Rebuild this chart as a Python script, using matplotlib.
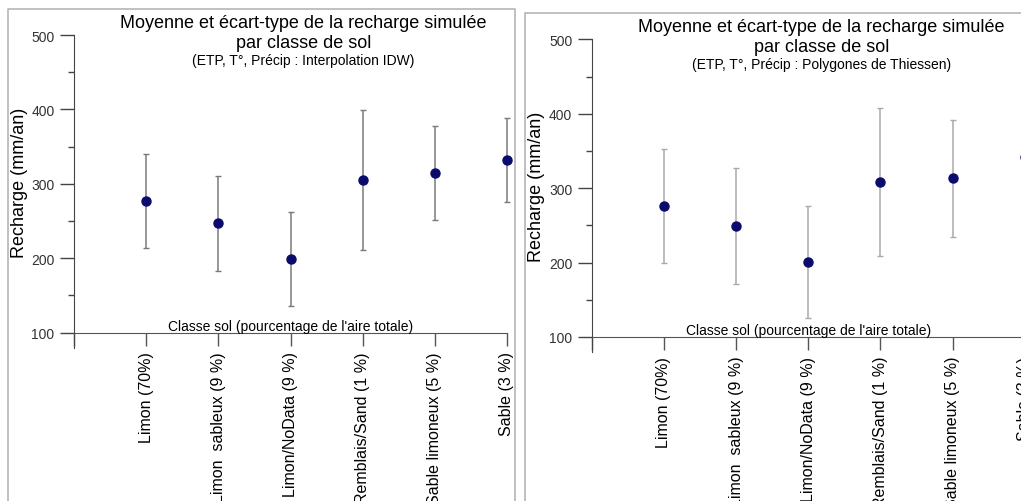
import matplotlib
matplotlib.use('Agg')
import matplotlib.pyplot as plt
from matplotlib.lines import Line2D
from matplotlib.ticker import MultipleLocator

plt.rcParams['font.family'] = ['Liberation Sans', 'DejaVu Sans']

# Soil classes (share of total area)
categories = ['Limon (70%)', 'Limon  sableux (9 %)', 'Limon/NoData (9 %)',
              'Remblais/Sand (1 %)', 'Sable limoneux (5 %)', 'Sable (3 %)']

# Mean and standard deviation of simulated recharge (mm/an)
idw_mean = [277, 247, 199, 305, 315, 332]
idw_std = [63, 64, 63, 94, 63, 56]

thiessen_mean = [276, 249, 201, 308, 313, 342]
thiessen_std = [76, 78, 75, 99, 79, 68]

subtitles = ['(ETP, T°, Précip : Interpolation IDW)',
             '(ETP, T°, Précip : Polygones de Thiessen)']

W, H = 1021, 502
fig = plt.figure(figsize=(W / 100, H / 100), dpi=100)


def fx(px):
    return px / W


def fy(py):
    return 1 - py / H


# frames around each panel
fig.add_artist(Line2D([fx(8), fx(8), fx(515), fx(515)], [0, fy(10), fy(10), 0],
                      transform=fig.transFigure, color='#b5b5b5', lw=1.2))
fig.add_artist(Line2D([fx(525), fx(525), 1.01], [0, fy(14), fy(14)],
                      transform=fig.transFigure, color='#b5b5b5', lw=1.2))

panels = [
    (idw_mean, idw_std, subtitles[0], 74, 36, '#7a7a7a'),
    (thiessen_mean, thiessen_std, subtitles[1], 591.7, 40.3, '#aaaaaa'),
]

for mean, std, subtitle, x0, y0, ecol in panels:
    ax_w = 433
    ax_h = 312.5
    ax = fig.add_axes([fx(x0), fy(y0 + ax_h), fx(ax_w), ax_h / H])
    ax.set_xlim(0, 6)
    ax.set_ylim(80, 500)

    xs = list(range(1, len(categories) + 1))
    ax.errorbar(xs, mean, yerr=std, fmt='o', color='#0b0b6e', ms=6.5,
                ecolor=ecol, elinewidth=1.1, capsize=2, capthick=1.0,
                clip_on=False, zorder=3)

    for s in ['top', 'right']:
        ax.spines[s].set_visible(False)
    ax.spines['bottom'].set_position(('data', 100))
    ax.spines['bottom'].set_color('#555555')
    ax.spines['left'].set_color('#444444')

    ax.yaxis.set_major_locator(MultipleLocator(100))
    ax.yaxis.set_minor_locator(MultipleLocator(50))
    ax.tick_params(axis='y', which='major', length=10, width=1,
                   color='#444444', labelsize=10, labelcolor='#333333', pad=4)
    ax.tick_params(axis='y', which='minor', length=4.3, width=1, color='#444444')

    ax.set_xticks(range(0, len(categories) + 1))
    ax.set_xticklabels([''] + categories, rotation=90, fontsize=11.5,
                       va='top', ha='center')
    ax.tick_params(axis='x', length=9.5, width=1, color='#555555', pad=4)

    ax.text(3, 100, "Classe sol (pourcentage de l'aire totale)", ha='center',
            va='bottom', fontsize=10)

    # titles
    cx = x0 + ax_w / 2 + 13
    fig.text(fx(cx), fy(y0 - 13), 'Moyenne et écart-type de la recharge simulée',
             ha='center', va='center', fontsize=13)
    fig.text(fx(cx), fy(y0 + 7), 'par classe de sol', ha='center', va='center',
             fontsize=13)
    fig.text(fx(cx), fy(y0 + 25), subtitle, ha='center', va='center',
             fontsize=10)

    fig.text(fx(x0 - 55), fy(y0 + 147), 'Recharge (mm/an)', rotation=90,
             ha='center', va='center', fontsize=13)

fig.savefig('out.png', dpi=100)
